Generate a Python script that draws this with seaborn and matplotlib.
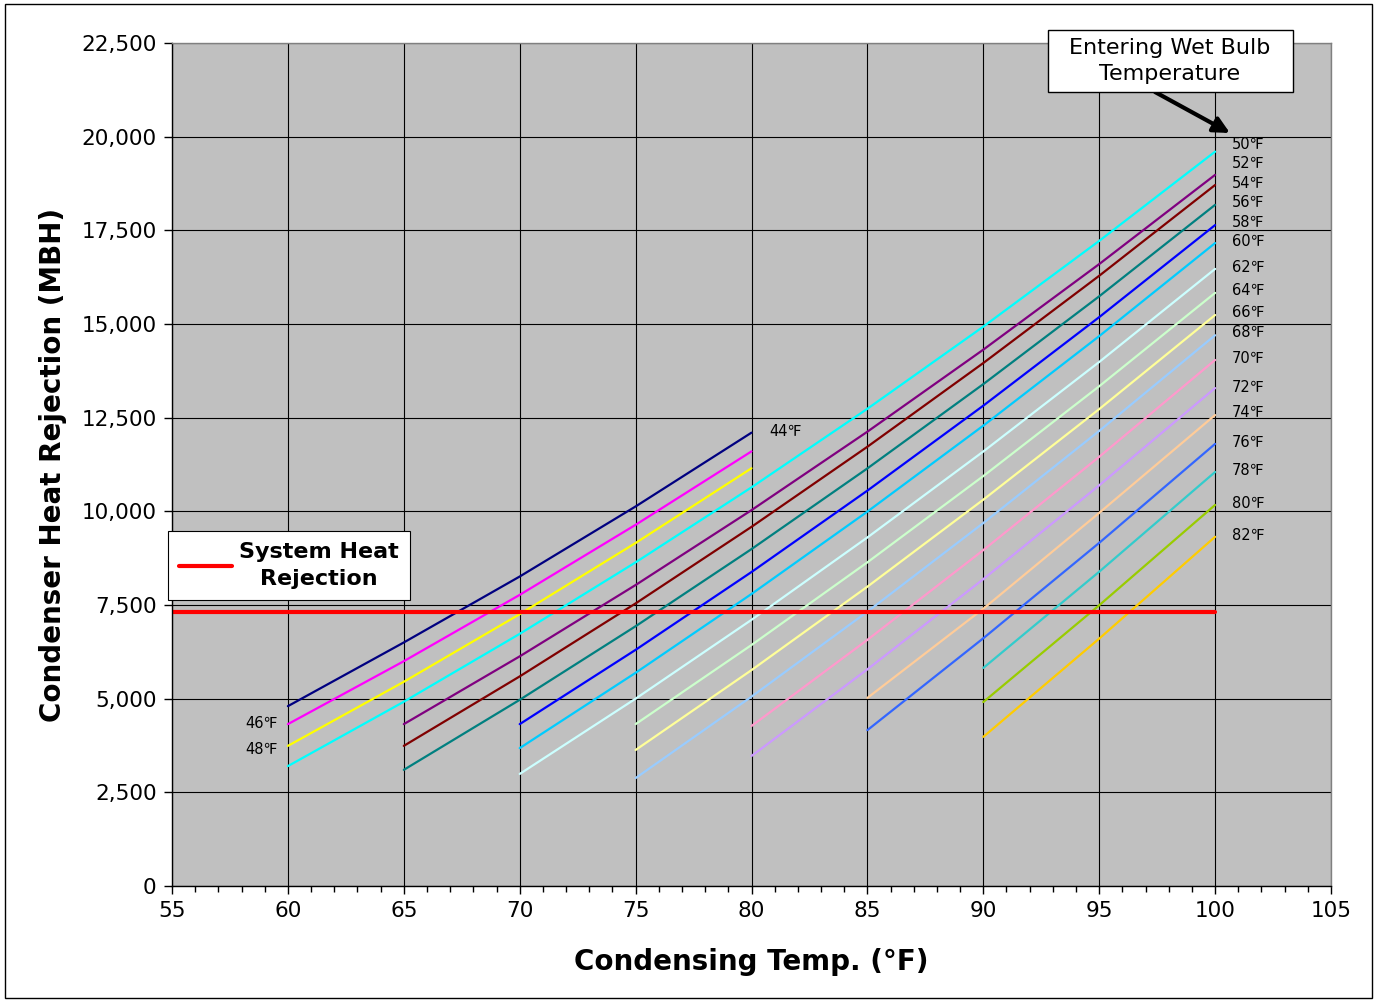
import numpy as np
import pandas as pd
import matplotlib.pyplot as plt
import seaborn as sns
from matplotlib.ticker import FuncFormatter, MultipleLocator
from matplotlib.lines import Line2D
from matplotlib.patches import Rectangle

sns.set_theme(style="white")
plt.rcParams['font.family'] = ['DejaVu Sans']
plt.rcParams['text.color'] = 'black'
plt.rcParams['axes.labelcolor'] = 'black'
plt.rcParams['xtick.color'] = 'black'
plt.rcParams['ytick.color'] = 'black'

# condensing temps (F) for each group of curves
t60 = [60, 65, 70, 75, 80]
t60_100 = [60, 65, 70, 75, 80, 85, 90, 95, 100]
t65 = [65, 70, 75, 80, 85, 90, 95, 100]
t70 = [70, 75, 80, 85, 90, 95, 100]
t75 = [75, 80, 85, 90, 95, 100]
t80 = [80, 85, 90, 95, 100]
t85 = [85, 90, 95, 100]
t90 = [90, 95, 100]

# heat rejection (MBH) per entering wet bulb temp
wb44 = [4800, 6500, 8260, 10130, 12100]
wb46 = [4320, 6000, 7770, 9640, 11600]
wb48 = [3740, 5450, 7255, 9155, 11150]
wb50 = [3200, 4918, 6730, 8638, 10640, 12738, 14930, 17218, 19600]
wb52 = [4320, 6129, 8033, 10032, 12126, 14315, 16599, 18980]
wb54 = [3740, 5594, 7542, 9586, 11724, 13958, 16287, 18710]
wb56 = [3100, 4969, 6933, 8992, 11146, 13395, 15739, 18180]
wb58 = [4320, 6303, 8380, 10553, 12820, 15183, 17640]
wb60 = [3680, 5690, 7794, 9993, 12287, 14676, 17160]
wb62 = [2990, 5000, 7104, 9303, 11597, 13986, 16470]
wb64 = [4320, 6432, 8639, 10941, 13338, 15830]
wb66 = [3630, 5762, 7989, 10311, 12728, 15240]
wb68 = [2880, 5054, 7323, 9687, 12146, 14700]
wb70 = [4270, 6570, 8965, 11455, 14040]
wb72 = [3470, 5783, 8190, 10693, 13290]
wb74 = [5020, 7400, 9958, 12570]
wb76 = [4160, 6612, 9158, 11800]
wb78 = [5820, 8388, 11050]
wb80 = [4910, 7493, 10170]
wb82 = [3980, 6603, 9320]

system_x = [55, 100]
system_y = [7300, 7300]

series = [
    ("44", t60, wb44, "#000080"), ("46", t60, wb46, "#FF00FF"),
    ("48", t60, wb48, "#FFFF00"), ("50", t60_100, wb50, "#00FFFF"),
    ("52", t65, wb52, "#800080"), ("54", t65, wb54, "#800000"),
    ("56", t65, wb56, "#008080"), ("58", t70, wb58, "#0000FF"),
    ("60", t70, wb60, "#00CCFF"), ("62", t70, wb62, "#CCFFFF"),
    ("64", t75, wb64, "#CCFFCC"), ("66", t75, wb66, "#FFFF99"),
    ("68", t75, wb68, "#99CCFF"), ("70", t80, wb70, "#FF99CC"),
    ("72", t80, wb72, "#CC99FF"), ("74", t85, wb74, "#FFCC99"),
    ("76", t85, wb76, "#3366FF"), ("78", t90, wb78, "#33CCCC"),
    ("80", t90, wb80, "#99CC00"), ("82", t90, wb82, "#FFCC00"),
]

rows = []
for name, xs, ys, c in series:
    for x, y in zip(xs, ys):
        rows.append({"wb": name, "temp": x, "mbh": y})
df = pd.DataFrame(rows)
pal = {name: c for name, xs, ys, c in series}

W, H = 1377, 1002
fig = plt.figure(figsize=(W/100, H/100), dpi=100)
ax = fig.add_axes([172/W, 1-886/H, (1331-172)/W, (886-43)/H])
ax.set_facecolor("#C0C0C0")

ax.set_xlim(55, 105)
ax.set_ylim(0, 22500)
ax.xaxis.set_major_locator(MultipleLocator(5))
ax.xaxis.set_minor_locator(MultipleLocator(1))
ax.yaxis.set_major_locator(MultipleLocator(2500))
ax.grid(True, which="major", color="black", linewidth=0.8)
ax.set_axisbelow(True)

sns.lineplot(data=df, x="temp", y="mbh", hue="wb", palette=pal, units="wb",
             estimator=None, linewidth=1.6, legend=False, ax=ax, sort=False)
sns.lineplot(x=system_x, y=system_y, color="#FF0000", linewidth=3, ax=ax)

# right side labels
label_y = {"50": 19778, "52": 19297, "54": 18763, "56": 18230, "58": 17696,
           "60": 17215, "62": 16521, "64": 15881, "66": 15294, "68": 14760,
           "70": 14066, "72": 13318, "74": 12625, "76": 11824, "78": 11077,
           "80": 10222, "82": 9368}
for k, v in label_y.items():
    ax.text(100.72, v, k + "\u2109", fontsize=10.5, va="center", ha="left")
ax.text(59.55, 4350, "46\u2109", fontsize=10.5, va="center", ha="right")
ax.text(59.55, 3654, "48\u2109", fontsize=10.5, va="center", ha="right")
ax.text(80.78, 12136, "44\u2109", fontsize=10.5, va="center", ha="left")

ax.yaxis.set_major_formatter(FuncFormatter(lambda v, p: f"{int(v):,}"))
ax.tick_params(axis="both", which="major", labelsize=15.5, length=6,
               width=1, color="black", direction="out", pad=5)
ax.tick_params(axis="x", which="minor", length=4, width=1, color="black",
               direction="out", bottom=True)
ax.tick_params(left=True, bottom=True)
for s in ["top", "right"]:
    ax.spines[s].set_color("#808080")
for s in ["left", "bottom"]:
    ax.spines[s].set_color("black")
for s in ax.spines.values():
    s.set_linewidth(1)

ax.set_xlabel("Condensing Temp. (\u00b0F)", fontsize=20, fontweight="bold",
              labelpad=19)
ax.set_ylabel("Condenser Heat Rejection (MBH)", fontsize=20, fontweight="bold",
              labelpad=10)

# legend
h = Line2D([0], [0], color="#FF0000", linewidth=3)
leg = ax.legend([h], ["System Heat\nRejection"], loc="upper left",
                bbox_to_anchor=(168/W, 1-531/H),
                bbox_transform=fig.transFigure, frameon=True, fancybox=False,
                borderaxespad=0, handlelength=2.4, handletextpad=0.3,
                borderpad=0.5, labelspacing=0.2,
                prop={"size": 16, "weight": "bold"})
leg.get_frame().set_edgecolor("black")
leg.get_frame().set_linewidth(0.8)
leg.get_frame().set_facecolor("white")
leg.get_frame().set_alpha(1)
for t in leg.get_texts():
    t.set_multialignment("center")
    t.set_linespacing(1.4)

# callout box and arrow
fig.patches.append(Rectangle((1048/W, 1-92/H), 245/W, 62/H,
                             transform=fig.transFigure, fc="white",
                             ec="black", lw=1, zorder=5))
fig.text(1170/W, 1-61/H, "Entering Wet Bulb\nTemperature", ha="center",
         va="center", fontsize=16, linespacing=1.35, zorder=6)
ax.annotate("", xy=(100.64, 20098), xytext=(97.41, 21192),
            annotation_clip=False,
            arrowprops=dict(arrowstyle="-|>,head_length=0.8,head_width=0.4",
                            color="black", lw=3, shrinkA=0, shrinkB=0))

fig.patches.append(Rectangle((5/W, 4/H), 1367/W, 994/H,
                             transform=fig.transFigure, fill=False,
                             edgecolor="black", linewidth=1))

fig.savefig("out.png", dpi=100)
